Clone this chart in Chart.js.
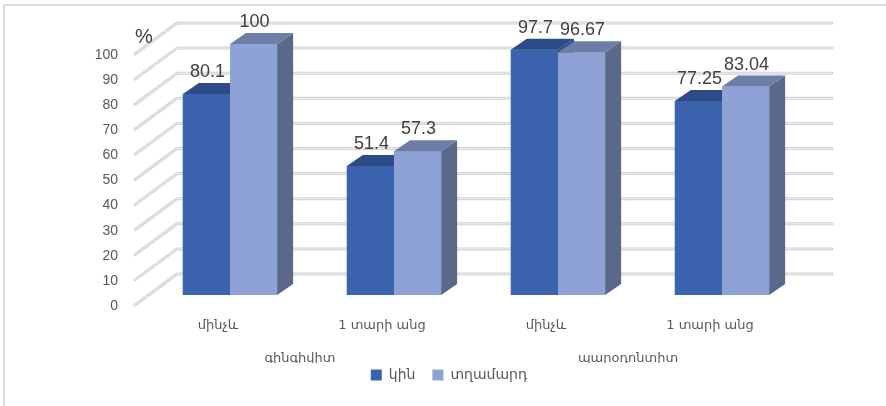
<!DOCTYPE html>
<html>
<head>
<meta charset="utf-8">
<script src="https://cdn.jsdelivr.net/npm/chart.js@4.4.1/dist/chart.umd.min.js"></script>
<style>
html,body{margin:0;padding:0;background:#fff;}
#wrap{width:886px;height:406px;position:relative;}
</style>
</head>
<body>
<div id="wrap"><canvas id="c" width="886" height="406"></canvas></div>
<script>
const categories = ["մինչև", "1 տարի անց", "մինչև", "1 տարի անց"];
const groupLabels = ["գինգիվիտ", "պարօդոնտիտ"];
const seriesNames = ["կին", "տղամարդ"];
const womenValues = [80.1, 51.4, 97.7, 77.25];
const menValues = [100, 57.3, 96.67, 83.04];
const valueLabels = [["80.1", "51.4", "97.7", "77.25"], ["100", "57.3", "96.67", "83.04"]];

const FRONT = ['#3b63ae', '#8fa2d5'];
const TOP = ['#2c4b87', '#6c7ea8'];
const SIDE = ['#2f4c82', '#5a6889'];
const DX = 16, DY = -11;

const deco = {
  id: 'deco',
  afterLayout(chart) {
    const lg = chart.legend;
    if (lg) { lg.left += 47; lg.right += 47; lg.top -= 12; lg.bottom -= 12; }
  },
  beforeDraw(chart) {
    const ctx = chart.ctx;
    ctx.save();
    ctx.fillStyle = '#fff';
    ctx.fillRect(0, 0, chart.width, chart.height);
    ctx.strokeStyle = '#dcdcdc';
    ctx.lineWidth = 2;
    ctx.beginPath();
    ctx.moveTo(4, 406); ctx.lineTo(4, 5); ctx.lineTo(886, 5);
    ctx.stroke();
    ctx.restore();
  },
  beforeDatasetsDraw(chart) {
    const ctx = chart.ctx, ys = chart.scales.y, ca = chart.chartArea;
    const xf = ca.left - 13, xb = ca.left + 29, xr = ca.right + 28;
    ctx.save();
    ctx.lineJoin = 'round';
    ctx.lineCap = 'round';
    ys.ticks.forEach(t => {
      const p = ys.getPixelForValue(t.value);
      const path = () => {
        ctx.beginPath();
        ctx.moveTo(xf, p + 10);
        ctx.lineTo(xb, p - 21);
        ctx.lineTo(xr, p - 21);
      };
      path(); ctx.strokeStyle = '#d2d2d2'; ctx.lineWidth = 3; ctx.stroke();
      path(); ctx.strokeStyle = '#efefef'; ctx.lineWidth = 1; ctx.stroke();
    });
    ctx.fillStyle = '#404040';
    ctx.font = '20px "Liberation Sans", Arial, sans-serif';
    ctx.textAlign = 'center';
    ctx.textBaseline = 'middle';
    ctx.fillText('%', xf + 9, ys.getPixelForValue(100) - 7);
    ctx.restore();
  },
  afterDatasetsDraw(chart) {
    const ctx = chart.ctx;
    ctx.save();
    [0, 1].forEach(i => {
      chart.getDatasetMeta(i).data.forEach(bar => {
        const l = bar.x - bar.width / 2, r = bar.x + bar.width / 2, t = bar.y, b = bar.base;
        ctx.fillStyle = FRONT[i];
        ctx.fillRect(l, t, r - l, b - t);
        ctx.fillStyle = SIDE[i];
        ctx.beginPath();
        ctx.moveTo(r, b); ctx.lineTo(r, t); ctx.lineTo(r + DX, t + DY); ctx.lineTo(r + DX, b + DY);
        ctx.closePath(); ctx.fill();
        ctx.fillStyle = TOP[i];
        ctx.beginPath();
        ctx.moveTo(l, t); ctx.lineTo(r, t); ctx.lineTo(r + DX, t + DY); ctx.lineTo(l + DX, t + DY);
        ctx.closePath(); ctx.fill();
      });
    });
    ctx.fillStyle = '#404040';
    ctx.font = '18px "Liberation Sans", Arial, sans-serif';
    ctx.textAlign = 'center';
    ctx.textBaseline = 'middle';
    [0, 1].forEach(i => {
      chart.getDatasetMeta(i).data.forEach((bar, j) => {
        ctx.fillText(valueLabels[i][j], bar.x + 1, bar.y - 22);
      });
    });
    ctx.restore();
  }
};

const tickFont = { family: '"DejaVu Sans", "Noto Sans", sans-serif', size: 13 };
const legendFont = { family: '"DejaVu Sans", "Noto Sans", sans-serif', size: 14 };

new Chart(document.getElementById('c'), {
  type: 'bar',
  data: {
    labels: categories,
    datasets: [
      { label: seriesNames[0], data: womenValues, backgroundColor: FRONT[0], borderWidth: 0 },
      { label: seriesNames[1], data: menValues, backgroundColor: FRONT[1], borderWidth: 0 }
    ]
  },
  options: {
    responsive: false,
    animation: false,
    devicePixelRatio: 1,
    datasets: { bar: { barPercentage: 1.0, categoryPercentage: 0.575 } },
    layout: { padding: { top: 44, right: 82, bottom: 2, left: 0 } },
    scales: {
      y: {
        min: 0, max: 100,
        ticks: { stepSize: 10, padding: 30, labelOffset: 11, color: '#595959',
                 font: { family: '"Liberation Sans", Arial, sans-serif', size: 14 } },
        grid: { display: false, drawTicks: false },
        border: { display: false },
        afterFit(axis) { axis.width = 148; }
      },
      x: {
        weight: 0,
        ticks: { padding: 23, labelOffset: -12, color: '#595959', font: tickFont, maxRotation: 0, autoSkip: false },
        grid: { display: false, drawTicks: false },
        border: { display: false },
        afterFit(axis) { axis.height = 45; }
      },
      x2: {
        type: 'category',
        position: 'bottom',
        weight: 1,
        labels: groupLabels,
        offset: true,
        ticks: { padding: 11, labelOffset: -12, color: '#595959', font: tickFont, maxRotation: 0, autoSkip: false },
        grid: { display: false, drawTicks: false },
        border: { display: false },
        afterFit(axis) { axis.height = 23; }
      }
    },
    plugins: {
      legend: {
        position: 'bottom',
        labels: { boxWidth: 11, boxHeight: 11, padding: 17, color: '#595959', font: legendFont }
      },
      tooltip: { enabled: false }
    }
  },
  plugins: [deco]
});
</script>
</body>
</html>
